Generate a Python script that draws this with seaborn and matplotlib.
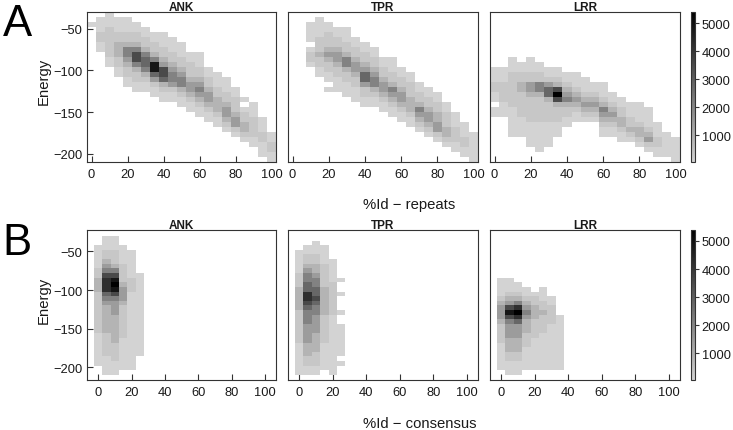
import numpy as np
import pandas as pd
import matplotlib
matplotlib.use("Agg")
import matplotlib.pyplot as plt
from matplotlib.colors import LinearSegmentedColormap
import seaborn as sns

# ---------------- data ----------------
FAMILIES = ["ANK", "TPR", "LRR"]
ROW_LETTERS = ["A", "B"]
X_LABELS = ["%Id \u2212 repeats", "%Id \u2212 consensus"]
Y_LABEL = "Energy"
X_TICKS = [0, 20, 40, 60, 80, 100]
Y_TICKS = [-50, -100, -150, -200]
CBAR_TICKS = [1000, 2000, 3000, 4000, 5000]
ID_BINS = list(range(0, 101, 5))          # centres of the %Id bins
ENERGY_TOP = -30                          # upper edge of first energy bin
ENERGY_STEP = 6                           # energy bin height
# count represented by each grey level code '0'..'9'
LEVEL_COUNTS = [60, 350, 850, 1450, 2100, 2800, 3500, 4200, 4850, 5400]

# For each %Id bin: (first energy-bin index, grey codes downwards; '.' = empty)
ANK_REPEATS = [
    (2, "0"), (1, "0001100"), (0, "00011111100"), (1, "000112221100"),
    (1, "00011244321100"), (2, "00112466421100"), (3, "0011245542100"),
    (4, "0011248853100"), (4, "00011236652100"), (5, "0001123443100"),
    (6, "0001123442100"), (8, "001112332100"), (8, "0001123432100"),
    (11, "00112332100"), (12, "00011222100"), (13, "00011233210"),
    (15, "0011123310"), (17, "0.0112210"), (18, "000111100"),
    (21, "00011000"), (24, "001100"),
]
TPR_REPEATS = [
    (0, ""), (0, ""), (2, "0000.0110"), (1, "000011121100"),
    (2, "001112321100.0"), (3, "0011233211000"), (3, "00011244211000"),
    (5, "0011233211000"), (6, "0011235531100"), (7, "001123442100"),
    (9, "00112332100"), (9, "000112432100"), (11, "00112332100"),
    (12, "00111222100"), (14, "0011243210"), (15, "0011233210"),
    (16, "0011223310"), (18, "001112210"), (20, "00011100"),
    (22, "0001100"), (24, "000000"),
]
LRR_REPEATS = [
    (11, "0001100.00"), (11, "0001111000"), (9, "0001111111000000"),
    (10, "001122111110000"), (9, "000113321111100000"),
    (10, "001144211111000000"), (11, "0013552111100000"),
    (11, "00126962111000"), (12, "00123421100"), (12, "0001232100"),
    (13, "000123210"), (14, "00123210"), (14, "00012432100"),
    (16, "001232100"), (17, "001122100"), (18, "00011210"),
    (18, "000012210"), (19, "000012310"), (22, "0001100"),
    (24, "00000"), (25, "00000"),
]
ANK_CONSENSUS = [
    (2, "00000112221111111110000000"),
    (0, "000112346777543222222111110000"),
    (0, "000111246898643332222221111000"),
    (2, "000011112333211111110000000"),
    (3, "00000011100000000000000000"),
    (8, "000000000000000000"),
] + [(0, "")] * 15
TPR_CONSENSUS = [
    (3, "000001112222211111110000000"),
    (2, "0011234455776544433332221100"),
    (1, "00011223445565443333222211100"),
    (2, "000011111222222111111000000"),
    (5, "0000011111110000000000000"),
    (9, "0..0...0..0000000.0"),
] + [(0, "")] * 15
LRR_CONSENSUS = [
    (9, "00001233321111000000"),
    (9, "000123686433322211000"),
    (10, "00124797533322211000"),
    (11, "001234322211100000"),
    (12, "01122211110000000"),
    (11, "000112111100000000"),
    (13, "0011110000000000"),
    (17, "000000000000"),
] + [(0, "")] * 13

PANELS = [
    [ANK_REPEATS, TPR_REPEATS, LRR_REPEATS],
    [ANK_CONSENSUS, TPR_CONSENSUS, LRR_CONSENSUS],
]


def to_frame(columns):
    recs = []
    for x, (top, codes) in zip(ID_BINS, columns):
        for i, ch in enumerate(codes):
            if ch == ".":
                continue
            row = top + i
            y = ENERGY_TOP - ENERGY_STEP * row - ENERGY_STEP / 2
            recs.append((x, y, LEVEL_COUNTS[int(ch)]))
    return pd.DataFrame(recs, columns=["pid", "energy", "count"])


# ---------------- styling / layout ----------------
sns.set_theme(style="white")
plt.rcParams["font.family"] = ["Liberation Sans", "DejaVu Sans"]
TXT = "#1a1a1a"
EDGE = "#333333"

W, H = 733, 431
fig = plt.figure(figsize=(W / 100, H / 100), dpi=100)


def rect(l, t, r, b):
    return [l / W, 1 - b / H, (r - l) / W, (b - t) / H]


cmap = LinearSegmentedColormap.from_list("grey", ["#d3d3d3", "#000000"])
col_px = [(87, 276), (288, 478), (490, 680)]
row_px = [(13, 163), (230.7, 381)]
xlims = [(-2.5, 102.4), (-6.7, 106.7)]
ylims = [(-210, -30), (-216.4, -22)]
letter_base = [36, 255]
xlabel_base = [209.5, 428]
ylabel_c = [81.7, 300]

for ri in range(2):
    top, bot = row_px[ri]
    cax = fig.add_axes(rect(691.3, top, 695.3, bot))
    for ci, fam in enumerate(FAMILIES):
        l, r = col_px[ci]
        ax = fig.add_axes(rect(l, top, r, bot))
        df = to_frame(PANELS[ri][ci])
        last = ci == 2
        sns.histplot(
            data=df, x="pid", y="energy", weights="count",
            binwidth=(5, ENERGY_STEP),
            binrange=((-2.5, 102.5), (-210, -30)),
            cmap=cmap, vmin=50, vmax=5400, ax=ax,
            cbar=last, cbar_ax=cax if last else None,
        )
        ax.set_xlim(*xlims[ri])
        ax.set_ylim(*ylims[ri])
        ax.set_xlabel("")
        ax.set_ylabel("")
        ax.set_xticks(X_TICKS)
        if ci == 0:
            ax.set_yticks(Y_TICKS)
        else:
            ax.set_yticks([])
        ax.tick_params(direction="in", length=4.3, width=0.8, color=EDGE,
                       labelsize=9.3, labelcolor=TXT, top=False, right=False,
                       bottom=True, left=True)
        ax.tick_params(axis="x", pad=4.5)
        ax.tick_params(axis="y", pad=3.5)
        for s in ax.spines.values():
            s.set_visible(True)
            s.set_color(EDGE)
            s.set_linewidth(0.8)
        ax.set_title(fam, fontsize=8.5, fontweight="bold", color=TXT, pad=1.5)
        if last:
            cb = ax.collections[0].colorbar
            cb.outline.set_linewidth(0.8)
            cb.outline.set_edgecolor(EDGE)
            cb.set_ticks(CBAR_TICKS)
            cax.tick_params(right=True, direction="out", length=3, width=0.8,
                            color=EDGE, pad=1.5, labelsize=9.3, labelcolor=TXT)

    fig.text(2.5 / W, 1 - letter_base[ri] / H, ROW_LETTERS[ri], fontsize=31.5,
             color="black", ha="left", va="baseline")
    fig.text(43.5 / W, 1 - ylabel_c[ri] / H, Y_LABEL, rotation=90,
             fontsize=10.7, color=TXT, ha="center", va="center")
    fig.text(362.7 / W, 1 - xlabel_base[ri] / H, X_LABELS[ri], fontsize=10.7,
             color=TXT, ha="left", va="baseline")

fig.savefig("out.png", dpi=100)
